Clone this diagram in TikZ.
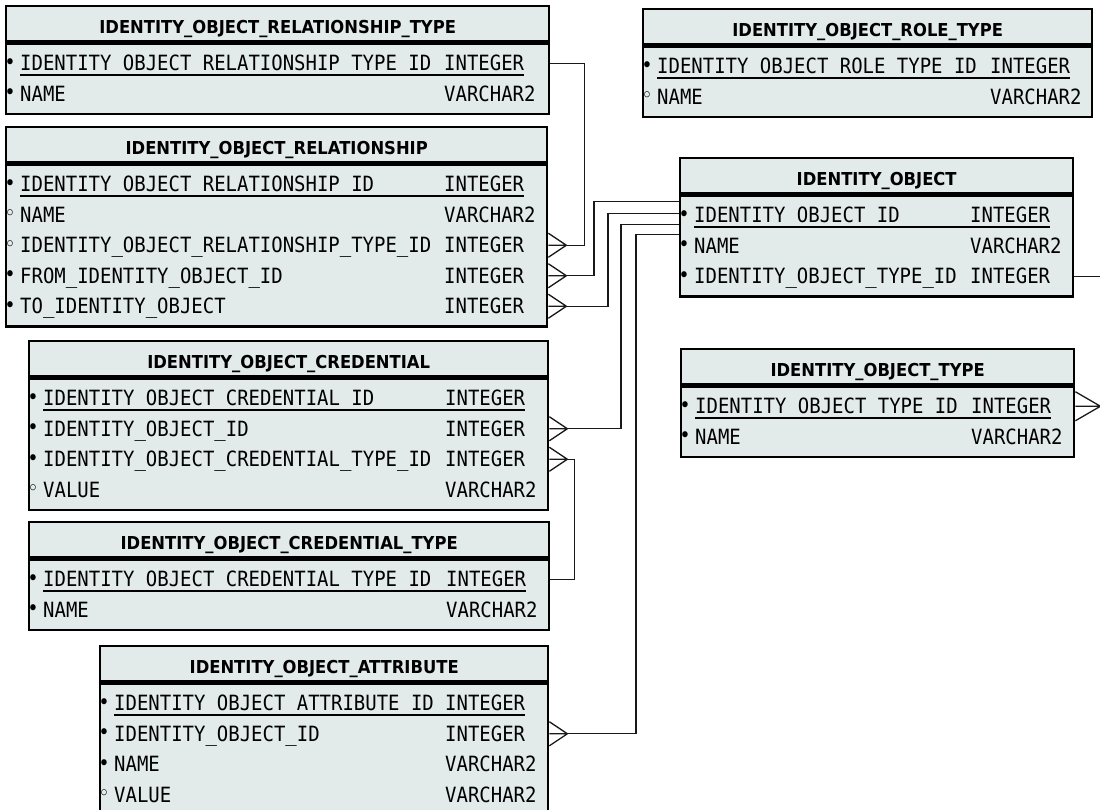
\documentclass[tikz,border=0pt]{standalone}
\usepackage{fontspec}
\usetikzlibrary{calc}

\newfontfamily\hdrfam[FakeStretch=0.92]{DejaVu Sans}
\newfontfamily\rowfam[FakeStretch=0.903]{DejaVu Sans Mono}
\newcommand{\hdrfont}{\hdrfam\bfseries\fontsize{17.8}{20}\selectfont}
\newcommand{\rowfont}{\rowfam\fontsize{21}{24}\selectfont}
\newcommand{\notnull}{\llap{\raisebox{1.5pt}{\rowfam\fontsize{21}{21}\selectfont\char"2022}\hspace{4.5pt}}}
\newcommand{\nullable}{\llap{\raisebox{1.5pt}{\rowfam\fontsize{21}{21}\selectfont\char"25E6}\hspace{4.5pt}}}

\definecolor{boxfill}{RGB}{227,234,234}
\definecolor{connline}{RGB}{25,25,25}

\begin{document}
\begin{tikzpicture}[x=1pt,y=-1pt,
  tblhead/.style={draw,line width=2.4pt,fill=boxfill,anchor=north west,minimum height=35,
    inner sep=0pt,text height=19pt,text depth=0pt,font=\hdrfont},
  tblbody/.style={draw,line width=2.4pt,fill=boxfill,anchor=north west,inner sep=0pt},
  fname/.style={anchor=base west,inner sep=0pt,font=\rowfont},
  pkline/.style={line width=1.4pt},
  conn/.style={line width=1.3pt,draw=connline}]
  \clip (0,0) rectangle (1100,810);

  % IDENTITY_OBJECT_RELATIONSHIP_TYPE
  \node[tblhead,minimum width=543] (rtH) at (5,5) {IDENTITY\_OBJECT\_RELATIONSHIP\_TYPE};
  \node[tblbody,minimum width=543,minimum height=70.5] (rtB) at (rtH.south west) {};
  \node[fname] (rt1) at ([shift={(15,28.5)}]rtB.north west) {\notnull IDENTITY\_OBJECT\_RELATIONSHIP\_TYPE\_ID};
  \node[fname] (rt1t) at ([shift={(439,28.5)}]rtB.north west) {INTEGER};
  \node[fname] (rt2) at ([shift={(15,59)}]rtB.north west) {\notnull NAME};
  \node[fname] (rt2t) at ([shift={(439,59)}]rtB.north west) {VARCHAR2};
  \draw[pkline] ([yshift=-4pt]rt1.base west) -- ([yshift=-4pt]rt1t.base east);

  % IDENTITY_OBJECT_RELATIONSHIP
  \node[tblhead,minimum width=541] (relH) at (5,126) {IDENTITY\_OBJECT\_RELATIONSHIP};
  \node[tblbody,minimum width=541,minimum height=162] (relB) at (relH.south west) {};
  \node[fname] (rel1) at ([shift={(15,28.5)}]relB.north west) {\notnull IDENTITY\_OBJECT\_RELATIONSHIP\_ID};
  \node[fname] (rel1t) at ([shift={(439,28.5)}]relB.north west) {INTEGER};
  \node[fname] (rel2) at ([shift={(15,59)}]relB.north west) {\nullable NAME};
  \node[fname] (rel2t) at ([shift={(439,59)}]relB.north west) {VARCHAR2};
  \node[fname] (rel3) at ([shift={(15,89.5)}]relB.north west) {\nullable IDENTITY\_OBJECT\_RELATIONSHIP\_TYPE\_ID};
  \node[fname] (rel3t) at ([shift={(439,89.5)}]relB.north west) {INTEGER};
  \node[fname] (rel4) at ([shift={(15,120)}]relB.north west) {\notnull FROM\_IDENTITY\_OBJECT\_ID};
  \node[fname] (rel4t) at ([shift={(439,120)}]relB.north west) {INTEGER};
  \node[fname] (rel5) at ([shift={(15,150.5)}]relB.north west) {\notnull TO\_IDENTITY\_OBJECT};
  \node[fname] (rel5t) at ([shift={(439,150.5)}]relB.north west) {INTEGER};
  \draw[pkline] ([yshift=-4pt]rel1.base west) -- ([yshift=-4pt]rel1t.base east);

  % IDENTITY_OBJECT_CREDENTIAL
  \node[tblhead,minimum width=519] (crH) at (28,340) {IDENTITY\_OBJECT\_CREDENTIAL};
  \node[tblbody,minimum width=519,minimum height=131.5] (crB) at (crH.south west) {};
  \node[fname] (cr1) at ([shift={(15,28.5)}]crB.north west) {\notnull IDENTITY\_OBJECT\_CREDENTIAL\_ID};
  \node[fname] (cr1t) at ([shift={(417,28.5)}]crB.north west) {INTEGER};
  \node[fname] (cr2) at ([shift={(15,59)}]crB.north west) {\notnull IDENTITY\_OBJECT\_ID};
  \node[fname] (cr2t) at ([shift={(417,59)}]crB.north west) {INTEGER};
  \node[fname] (cr3) at ([shift={(15,89.5)}]crB.north west) {\notnull IDENTITY\_OBJECT\_CREDENTIAL\_TYPE\_ID};
  \node[fname] (cr3t) at ([shift={(417,89.5)}]crB.north west) {INTEGER};
  \node[fname] (cr4) at ([shift={(15,120)}]crB.north west) {\nullable VALUE};
  \node[fname] (cr4t) at ([shift={(417,120)}]crB.north west) {VARCHAR2};
  \draw[pkline] ([yshift=-4pt]cr1.base west) -- ([yshift=-4pt]cr1t.base east);

  % IDENTITY_OBJECT_CREDENTIAL_TYPE
  \node[tblhead,minimum width=520] (ctH) at (28,521) {IDENTITY\_OBJECT\_CREDENTIAL\_TYPE};
  \node[tblbody,minimum width=520,minimum height=70.5] (ctB) at (ctH.south west) {};
  \node[fname] (ct1) at ([shift={(15,28.5)}]ctB.north west) {\notnull IDENTITY\_OBJECT\_CREDENTIAL\_TYPE\_ID};
  \node[fname] (ct1t) at ([shift={(418,28.5)}]ctB.north west) {INTEGER};
  \node[fname] (ct2) at ([shift={(15,59)}]ctB.north west) {\notnull NAME};
  \node[fname] (ct2t) at ([shift={(418,59)}]ctB.north west) {VARCHAR2};
  \draw[pkline] ([yshift=-4pt]ct1.base west) -- ([yshift=-4pt]ct1t.base east);

  % IDENTITY_OBJECT_ATTRIBUTE
  \node[tblhead,minimum width=448] (atH) at (99,645) {IDENTITY\_OBJECT\_ATTRIBUTE};
  \node[tblbody,minimum width=448,minimum height=131.5] (atB) at (atH.south west) {};
  \node[fname] (at1) at ([shift={(15,28.5)}]atB.north west) {\notnull IDENTITY\_OBJECT\_ATTRIBUTE\_ID};
  \node[fname] (at1t) at ([shift={(346,28.5)}]atB.north west) {INTEGER};
  \node[fname] (at2) at ([shift={(15,59)}]atB.north west) {\notnull IDENTITY\_OBJECT\_ID};
  \node[fname] (at2t) at ([shift={(346,59)}]atB.north west) {INTEGER};
  \node[fname] (at3) at ([shift={(15,89.5)}]atB.north west) {\notnull NAME};
  \node[fname] (at3t) at ([shift={(346,89.5)}]atB.north west) {VARCHAR2};
  \node[fname] (at4) at ([shift={(15,120)}]atB.north west) {\nullable VALUE};
  \node[fname] (at4t) at ([shift={(346,120)}]atB.north west) {VARCHAR2};
  \draw[pkline] ([yshift=-4pt]at1.base west) -- ([yshift=-4pt]at1t.base east);

  % IDENTITY_OBJECT_ROLE_TYPE
  \node[tblhead,minimum width=449] (roH) at (642,8) {IDENTITY\_OBJECT\_ROLE\_TYPE};
  \node[tblbody,minimum width=449,minimum height=70.5] (roB) at (roH.south west) {};
  \node[fname] (ro1) at ([shift={(15,28.5)}]roB.north west) {\notnull IDENTITY\_OBJECT\_ROLE\_TYPE\_ID};
  \node[fname] (ro1t) at ([shift={(348,28.5)}]roB.north west) {INTEGER};
  \node[fname] (ro2) at ([shift={(15,59)}]roB.north west) {\nullable NAME};
  \node[fname] (ro2t) at ([shift={(348,59)}]roB.north west) {VARCHAR2};
  \draw[pkline] ([yshift=-4pt]ro1.base west) -- ([yshift=-4pt]ro1t.base east);

  % IDENTITY_OBJECT
  \node[tblhead,minimum width=393] (ioH) at (679,157) {IDENTITY\_OBJECT};
  \node[tblbody,minimum width=393,minimum height=101] (ioB) at (ioH.south west) {};
  \node[fname] (io1) at ([shift={(15,28.5)}]ioB.north west) {\notnull IDENTITY\_OBJECT\_ID};
  \node[fname] (io1t) at ([shift={(291,28.5)}]ioB.north west) {INTEGER};
  \node[fname] (io2) at ([shift={(15,59)}]ioB.north west) {\notnull NAME};
  \node[fname] (io2t) at ([shift={(291,59)}]ioB.north west) {VARCHAR2};
  \node[fname] (io3) at ([shift={(15,89.5)}]ioB.north west) {\notnull IDENTITY\_OBJECT\_TYPE\_ID};
  \node[fname] (io3t) at ([shift={(291,89.5)}]ioB.north west) {INTEGER};
  \draw[pkline] ([yshift=-4pt]io1.base west) -- ([yshift=-4pt]io1t.base east);

  % IDENTITY_OBJECT_TYPE
  \node[tblhead,minimum width=393] (itH) at (680,348) {IDENTITY\_OBJECT\_TYPE};
  \node[tblbody,minimum width=393,minimum height=70.5] (itB) at (itH.south west) {};
  \node[fname] (it1) at ([shift={(15,28.5)}]itB.north west) {\notnull IDENTITY\_OBJECT\_TYPE\_ID};
  \node[fname] (it1t) at ([shift={(291,28.5)}]itB.north west) {INTEGER};
  \node[fname] (it2) at ([shift={(15,59)}]itB.north west) {\notnull NAME};
  \node[fname] (it2t) at ([shift={(291,59)}]itB.north west) {VARCHAR2};
  \draw[pkline] ([yshift=-4pt]it1.base west) -- ([yshift=-4pt]it1t.base east);

  % crow's feet tips
  \coordinate (cfr3) at ($(relB.east |- rel3t)+(18,0)$);
  \coordinate (cfr4) at ($(relB.east |- rel4t)+(18,0)$);
  \coordinate (cfr5) at ($(relB.east |- rel5t)+(18,0)$);
  \coordinate (cfc2) at ($(crB.east |- cr2t)+(18,0)$);
  \coordinate (cfc3) at ($(crB.east |- cr3t)+(18,0)$);
  \coordinate (cfa2) at ($(atB.east |- at2t)+(18,0)$);
  \coordinate (cfit) at ($(itB.east |- it1t)+(25,0)$);
  \coordinate (ioa) at ($(ioB.west |- io1t)+(0,-14)$);
  \coordinate (iob) at ($(ioB.west |- io1t)+(0,-2)$);
  \coordinate (ioc) at ($(ioB.west |- io1t)+(0,9)$);
  \coordinate (iod) at ($(ioB.west |- io1t)+(0,19)$);

  \draw[conn] (rtB.east |- rt1t) -- ++(34,0) |- (cfr3);
  \draw[conn] (ioa) -- ++(-85,0) |- (cfr4);
  \draw[conn] (iob) -- ++(-71,0) |- (cfr5);
  \draw[conn] (ioc) -- ++(-58,0) |- (cfc2);
  \draw[conn] (iod) -- ++(-43,0) |- (cfa2);
  \draw[conn] (cfc3) -- ++(7,0) |- (ctB.east |- ct1t);
  \draw[conn] (ioB.east |- io3t) -- ++(40,0) |- (cfit);

  \draw[conn] (cfr3) -- ++(-18,-12) (cfr3) -- ++(-18,12) (cfr3) -- (relB.east |- rel3t);
  \draw[conn] (cfr4) -- ++(-18,-12) (cfr4) -- ++(-18,12) (cfr4) -- (relB.east |- rel4t);
  \draw[conn] (cfr5) -- ++(-18,-12) (cfr5) -- ++(-18,12) (cfr5) -- (relB.east |- rel5t);
  \draw[conn] (cfc2) -- ++(-18,-12) (cfc2) -- ++(-18,12) (cfc2) -- (crB.east |- cr2t);
  \draw[conn] (cfc3) -- ++(-18,-12) (cfc3) -- ++(-18,12) (cfc3) -- (crB.east |- cr3t);
  \draw[conn] (cfa2) -- ++(-18,-12) (cfa2) -- ++(-18,12) (cfa2) -- (atB.east |- at2t);
  \draw[conn] (cfit) -- ++(-25,-14.5) (cfit) -- ++(-25,14.5) (cfit) -- (itB.east |- it1t);
\end{tikzpicture}
\end{document}
